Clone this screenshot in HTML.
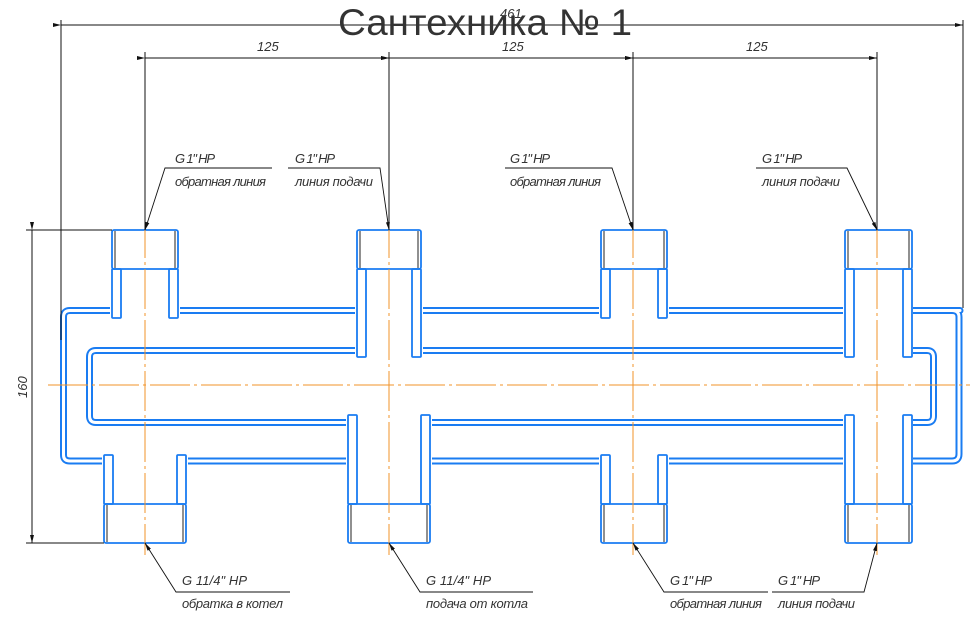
<!DOCTYPE html>
<html><head><meta charset="utf-8"><style>
html,body{margin:0;padding:0;background:#fff;}
svg{display:block;}
.t{font-family:"Liberation Sans","DejaVu Sans",sans-serif;font-style:italic;font-size:13px;fill:#333;}
</style></head><body>
<svg width="970" height="626" viewBox="0 0 970 626" xmlns="http://www.w3.org/2000/svg">
<defs>
<marker id="ar" viewBox="0 0 8 4" refX="8" refY="2" markerWidth="8" markerHeight="4" orient="auto" markerUnits="userSpaceOnUse">
<path d="M0,0 L8,2 L0,4 z" fill="#111"/></marker>
</defs>
<g fill="none" stroke-linejoin="round">
<path d="M960,310.5 H70 Q63.5,310.5 63.5,317 V455 Q63.5,461 70,461 H952 Q959,461 959,454 V317 Q959,310.5 952,310.5 Z" stroke="#1a7cf2" stroke-width="7"/>
<path d="M960,310.5 H70 Q63.5,310.5 63.5,317 V455 Q63.5,461 70,461 H952 Q959,461 959,454 V317 Q959,310.5 952,310.5 Z" stroke="#fff" stroke-width="3"/>
<path d="M96,350.5 Q89.5,350.5 89.5,357 V416 Q89.5,422.5 96,422.5 H927 Q933.5,422.5 933.5,416 V357 Q933.5,350.5 927,350.5 Z" stroke="#1a7cf2" stroke-width="7"/>
<path d="M96,350.5 Q89.5,350.5 89.5,357 V416 Q89.5,422.5 96,422.5 H927 Q933.5,422.5 933.5,416 V357 Q933.5,350.5 927,350.5 Z" stroke="#fff" stroke-width="3"/>
</g>
<g fill="#fff" stroke="none">
<rect x="110" y="228" width="70" height="92"/>
<rect x="355" y="228" width="68" height="131"/>
<rect x="599" y="228" width="70" height="92"/>
<rect x="843" y="228" width="70" height="131"/>
<rect x="102" y="453" width="86" height="92"/>
<rect x="346" y="413" width="86" height="132"/>
<rect x="599" y="453" width="70" height="92"/>
<rect x="843" y="413" width="70" height="132"/>
</g>
<g fill="none" stroke="#1a7cf2" stroke-width="1.8">
<rect x="112" y="230" width="66" height="39" rx="2"/>
<rect x="112" y="269" width="9" height="49" rx="1"/><rect x="169" y="269" width="9" height="49" rx="1"/>
<rect x="357" y="230" width="64" height="39" rx="2"/>
<rect x="357" y="269" width="9" height="88" rx="1"/><rect x="412" y="269" width="9" height="88" rx="1"/>
<rect x="601" y="230" width="66" height="39" rx="2"/>
<rect x="601" y="269" width="9" height="49" rx="1"/><rect x="658" y="269" width="9" height="49" rx="1"/>
<rect x="845" y="230" width="67" height="39" rx="2"/>
<rect x="845" y="269" width="9" height="88" rx="1"/><rect x="903" y="269" width="9" height="88" rx="1"/>
<rect x="104" y="504" width="82" height="39" rx="2"/>
<rect x="104" y="455" width="9" height="49" rx="1"/><rect x="177" y="455" width="9" height="49" rx="1"/>
<rect x="348" y="504" width="82" height="39" rx="2"/>
<rect x="348" y="415" width="9" height="89" rx="1"/><rect x="421" y="415" width="9" height="89" rx="1"/>
<rect x="601" y="504" width="66" height="39" rx="2"/>
<rect x="601" y="455" width="9" height="49" rx="1"/><rect x="658" y="455" width="9" height="49" rx="1"/>
<rect x="845" y="504" width="67" height="39" rx="2"/>
<rect x="845" y="415" width="9" height="89" rx="1"/><rect x="903" y="415" width="9" height="89" rx="1"/>
</g>
<g stroke="#222" stroke-width="1">
<line x1="115" y1="231" x2="115" y2="268"/><line x1="175" y1="231" x2="175" y2="268"/>
<line x1="360" y1="231" x2="360" y2="268"/><line x1="418" y1="231" x2="418" y2="268"/>
<line x1="604" y1="231" x2="604" y2="268"/><line x1="664" y1="231" x2="664" y2="268"/>
<line x1="848" y1="231" x2="848" y2="268"/><line x1="909" y1="231" x2="909" y2="268"/>
<line x1="107" y1="505" x2="107" y2="542"/><line x1="183" y1="505" x2="183" y2="542"/>
<line x1="351" y1="505" x2="351" y2="542"/><line x1="427" y1="505" x2="427" y2="542"/>
<line x1="604" y1="505" x2="604" y2="542"/><line x1="664" y1="505" x2="664" y2="542"/>
<line x1="848" y1="505" x2="848" y2="542"/><line x1="909" y1="505" x2="909" y2="542"/>
</g>
<g stroke="#f0932a" stroke-width="1" stroke-dasharray="40,4,3,4">
<line x1="48" y1="385" x2="970" y2="385"/>
<line x1="145" y1="218" x2="145" y2="555"/>
<line x1="389" y1="218" x2="389" y2="555"/>
<line x1="633" y1="218" x2="633" y2="555"/>
<line x1="877" y1="218" x2="877" y2="555"/>
</g>
<g stroke="#111" stroke-width="1" fill="none">
<line x1="61" y1="20" x2="61" y2="340"/>
<line x1="963" y1="20" x2="963" y2="308"/>
<line x1="61" y1="25" x2="963" y2="25" marker-start="url(#ar)" marker-end="url(#ar)"/>
<line x1="145" y1="52" x2="145" y2="230"/>
<line x1="389" y1="52" x2="389" y2="230"/>
<line x1="633" y1="52" x2="633" y2="230"/>
<line x1="877" y1="52" x2="877" y2="230"/>
<line x1="145" y1="58" x2="389" y2="58" marker-start="url(#ar)" marker-end="url(#ar)"/>
<line x1="389" y1="58" x2="633" y2="58" marker-start="url(#ar)" marker-end="url(#ar)"/>
<line x1="633" y1="58" x2="877" y2="58" marker-start="url(#ar)" marker-end="url(#ar)"/>
<line x1="26" y1="230" x2="112" y2="230"/>
<line x1="26" y1="543" x2="104" y2="543"/>
<line x1="32" y1="230" x2="32" y2="543" marker-start="url(#ar)" marker-end="url(#ar)"/>
</g>
<g class="t" font-size="12">
<text x="257" y="51">125</text><text x="502" y="51">125</text><text x="746" y="51">125</text>
<text x="500" y="18">461</text>
<text transform="translate(27,398) rotate(-90)">160</text>
</g>
<g stroke="#111" stroke-width="0.9" fill="none">
<polyline points="272,168 165,168 145,230" marker-end="url(#ar)"/>
<polyline points="288,168 380,168 389,230" marker-end="url(#ar)"/>
<polyline points="505,168 612,168 633,230" marker-end="url(#ar)"/>
<polyline points="756,168 847,168 877,230" marker-end="url(#ar)"/>
<polyline points="290,592 176,592 145,543" marker-end="url(#ar)"/>
<polyline points="533,592 420,592 389,543" marker-end="url(#ar)"/>
<polyline points="768,592 664,592 633,543" marker-end="url(#ar)"/>
<polyline points="772,592 864,592 877,543" marker-end="url(#ar)"/>
</g>
<g class="t">
<text x="175" y="163" textLength="40">G 1" НР</text>
<text x="175" y="186" textLength="91">обратная линия</text>
<text x="295" y="163" textLength="40">G 1" НР</text>
<text x="295" y="186" textLength="78">линия подачи</text>
<text x="510" y="163" textLength="40">G 1" НР</text>
<text x="510" y="186" textLength="91">обратная линия</text>
<text x="762" y="163" textLength="40">G 1" НР</text>
<text x="762" y="186" textLength="78">линия подачи</text>
<text x="182" y="585" textLength="65">G 11/4" НР</text>
<text x="182" y="608" textLength="101">обратка в котел</text>
<text x="426" y="585" textLength="65">G 11/4" НР</text>
<text x="426" y="608" textLength="102">подача от котла</text>
<text x="670" y="585" textLength="42">G 1" НР</text>
<text x="670" y="608" textLength="92">обратная линия</text>
<text x="778" y="585" textLength="42">G 1" НР</text>
<text x="778" y="608" textLength="77">линия подачи</text>
</g>
<text x="338" y="35" textLength="294" lengthAdjust="spacingAndGlyphs" font-family="Liberation Sans, sans-serif" font-size="37" fill="#333">Сантехника № 1</text>
</svg>
</body></html>
